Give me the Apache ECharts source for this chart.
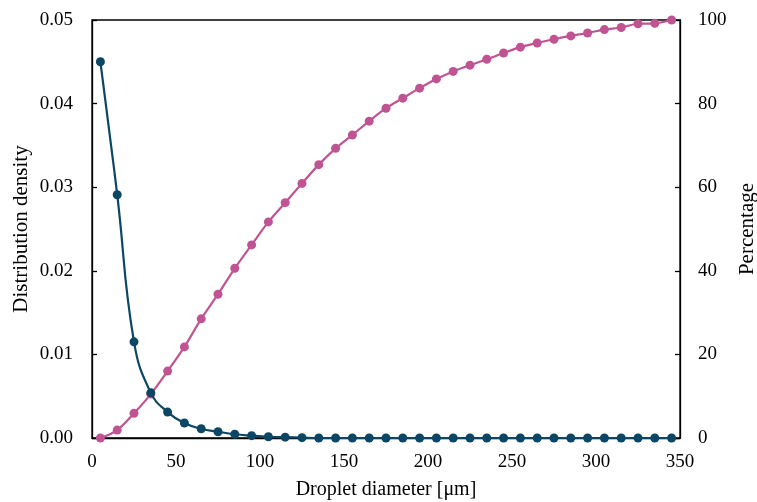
<!DOCTYPE html>
<html>
<head>
<meta charset="utf-8">
<script src="https://cdn.jsdelivr.net/npm/echarts@6/dist/echarts.min.js"></script>
<style>html,body{margin:0;padding:0;background:#fff;}#c{width:757px;height:502px;}</style>
</head>
<body>
<div id="c"></div>
<script>
const diameters = [5,15,25,35,45,55,65,75,85,95,105,115,125,135,145,155,165,175,185,195,205,215,225,235,245,255,265,275,285,295,305,315,325,335,345];
const density = [0.0450,0.0291,0.0115,0.0054,0.0031,0.0018,0.0011,0.00075,0.00045,0.00028,0.00015,0.0001,0.00004,0,0,0,0,0,0,0,0,0,0,0,0,0,0,0,0,0,0,0,0,0,0];
const percentage = [0,1.9,5.9,10.5,16.0,21.8,28.5,34.4,40.6,46.2,51.7,56.3,60.9,65.4,69.3,72.5,75.8,78.9,81.3,83.7,85.9,87.7,89.2,90.6,92.1,93.5,94.5,95.4,96.2,96.9,97.7,98.2,99.1,99.2,100];
const xTitle = 'Droplet diameter [μm]';
const yLeftTitle = 'Distribution density';
const yRightTitle = 'Percentage';

const font = '"Liberation Serif","Times New Roman",serif';
const chart = echarts.init(document.getElementById('c'), null, {renderer:'canvas'});
chart.setOption({
  backgroundColor:'#fff',
  animation:false,
  grid:{left:92,right:77,top:20,bottom:64,show:true,borderColor:'#000',borderWidth:1.3,containLabel:false,outerBoundsMode:'none'},
  xAxis:{type:'value',min:0,max:350,interval:50,
    name:xTitle,nameLocation:'middle',nameGap:42,
    nameTextStyle:{fontFamily:font,fontSize:20,color:'#000'},
    axisLine:{show:true,lineStyle:{color:'#000',width:1.3}},
    axisTick:{show:false},splitLine:{show:false},
    axisLabel:{fontFamily:font,fontSize:19,color:'#000',margin:15}},
  yAxis:[
    {type:'value',min:0,max:0.05,interval:0.01,position:'left',
     name:yLeftTitle,nameLocation:'middle',nameGap:60,nameMoveOverlap:false,
     nameTextStyle:{fontFamily:font,fontSize:21,color:'#000'},
     axisLine:{show:true,lineStyle:{color:'#000',width:1.3}},
     axisTick:{show:true,inside:true,length:5,lineStyle:{color:'#000',width:1.3}},
     splitLine:{show:false},
     axisLabel:{fontFamily:font,fontSize:19,color:'#000',margin:19,formatter:v=>v.toFixed(2)}},
    {type:'value',min:0,max:100,interval:20,position:'right',
     name:yRightTitle,nameLocation:'middle',nameGap:52,
     nameTextStyle:{fontFamily:font,fontSize:21,color:'#000'},
     axisLine:{show:true,lineStyle:{color:'#000',width:1.3}},
     axisTick:{show:true,inside:true,length:5,lineStyle:{color:'#000',width:1.3}},
     splitLine:{show:false},
     axisLabel:{fontFamily:font,fontSize:19,color:'#000',margin:18}}
  ],
  series:[
    {type:'line',yAxisIndex:0,data:diameters.map((d,i)=>[d,density[i]]),
     smooth:0.45,symbol:'circle',symbolSize:9,
     lineStyle:{color:'#0b4664',width:2.2},itemStyle:{color:'#0b4664'},z:3},
    {type:'line',yAxisIndex:1,data:diameters.map((d,i)=>[d,percentage[i]]),
     smooth:0.35,symbol:'circle',symbolSize:9,
     lineStyle:{color:'#c05493',width:2.2},itemStyle:{color:'#c05493'},z:2}
  ]
});
</script>
</body>
</html>
